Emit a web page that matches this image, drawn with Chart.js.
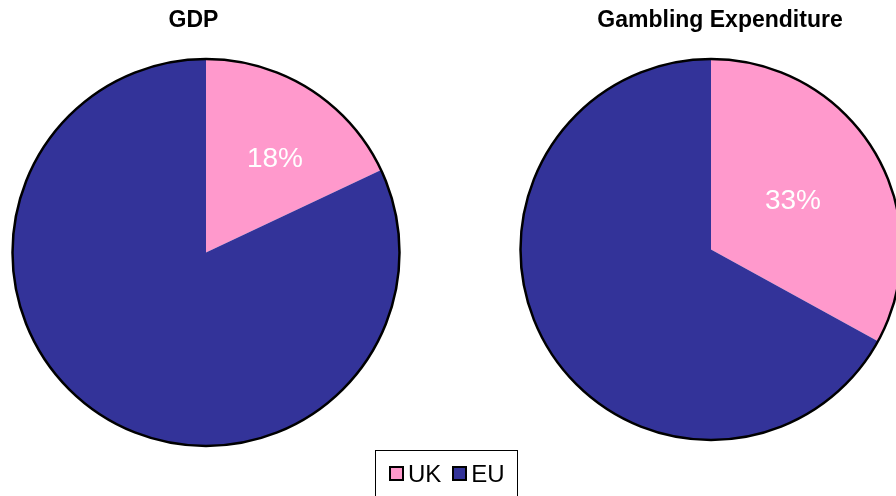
<!DOCTYPE html>
<html>
<head>
<meta charset="utf-8">
<script src="https://cdn.jsdelivr.net/npm/chart.js@4.4.0/dist/chart.umd.min.js"></script>
<style>
  body { margin: 0; background: #fff; overflow: hidden; width: 896px; height: 496px; position: relative; }
  canvas { position: absolute; top: 0; }
  #legend {
    position: absolute; left: 375px; top: 450px; width: 143px; height: 50px;
    border: 1px solid #000; box-sizing: border-box;
    font-family: "Liberation Sans", Arial, sans-serif; font-size: 24px; color: #000;
    display: flex; align-items: flex-start; padding: 12px 0 0 13px;
  }
  #legend span.sw { display: inline-block; width: 15px; height: 15px; box-sizing: border-box; border: 2px solid #000; margin: 3px 4px 0 0; }
  #legend span.item { display: flex; align-items: flex-start; margin-right: 11px; line-height: 22px; }
</style>
</head>
<body>
<canvas id="gdpChart"></canvas>
<canvas id="gambChart"></canvas>
<div id="legend"></div>
<script>
const categories = ['UK', 'EU'];
const colors = ['#FF99CC', '#333399'];
const gdpValues = [18, 82];
const gamblingValues = [33, 67];

// legend built from the category list
const legendEl = document.getElementById('legend');
categories.forEach(function(c, i) {
  legendEl.innerHTML += '<span class="item"><span class="sw" style="background:' + colors[i] + '"></span>' + c + '</span>';
});

// move the title sideways a bit (title isn't centred over the pie in the original)
const titleShift = {
  id: 'titleShift',
  afterLayout(chart, args, opts) {
    if (chart.titleBlock) {
      chart.titleBlock.left += opts.dx || 0;
      chart.titleBlock.right += opts.dx || 0;
    }
  }
};

// black ring round the pie only, plus the white % label on the UK slice
const pieExtras = {
  id: 'pieExtras',
  afterDatasetsDraw(chart, args, opts) {
    const ctx = chart.ctx;
    const arc = chart.getDatasetMeta(0).data[0];
    ctx.save();
    ctx.beginPath();
    ctx.arc(arc.x, arc.y, arc.outerRadius, 0, Math.PI * 2);
    ctx.lineWidth = 2.5;
    ctx.strokeStyle = '#000';
    ctx.stroke();

    const mid = (arc.startAngle + arc.endAngle) / 2 + (opts.angleShift || 0) * Math.PI / 180;
    const r = arc.outerRadius * opts.labelRadius;
    ctx.fillStyle = '#fff';
    ctx.font = '28px "Liberation Sans", Arial, sans-serif';
    ctx.textAlign = 'center';
    ctx.textBaseline = 'middle';
    ctx.fillText(chart.data.datasets[0].data[0] + '%', arc.x + Math.cos(mid) * r, arc.y + Math.sin(mid) * r);
    ctx.restore();
  }
};

function makePie(id, left, width, title, values, pad, dx, labelRadius, angleShift) {
  const el = document.getElementById(id);
  el.style.left = left + 'px';
  el.width = width;
  el.height = 496;
  el.style.width = width + 'px';
  el.style.height = '496px';
  return new Chart(el, {
    type: 'pie',
    data: {
      labels: categories,
      datasets: [{
        data: values,
        backgroundColor: colors,
        borderWidth: 0,
        hoverOffset: 0,
        offset: 0
      }]
    },
    options: {
      responsive: false,
      animation: false,
      layout: { padding: pad },
      plugins: {
        legend: { display: false },
        tooltip: { enabled: false },
        title: {
          display: true,
          text: title,
          color: '#000',
          font: { family: '"Liberation Sans", Arial, sans-serif', size: 23, weight: 'bold' },
          padding: { top: 7, bottom: 24.4 }
        },
        titleShift: { dx: dx },
        pieExtras: { labelRadius: labelRadius, angleShift: angleShift }
      }
    },
    plugins: [titleShift, pieExtras]
  });
}

makePie('gdpChart', 0, 412, 'GDP', gdpValues, { left: 12.5, right: 12.5, top: 0, bottom: 50 }, -12.5, 0.6, 4);
makePie('gambChart', 519, 384, 'Gambling Expenditure', gamblingValues, { left: 1.5, right: 1.5, top: 0, bottom: 56 }, 9, 0.5, 0);
</script>
</body>
</html>
